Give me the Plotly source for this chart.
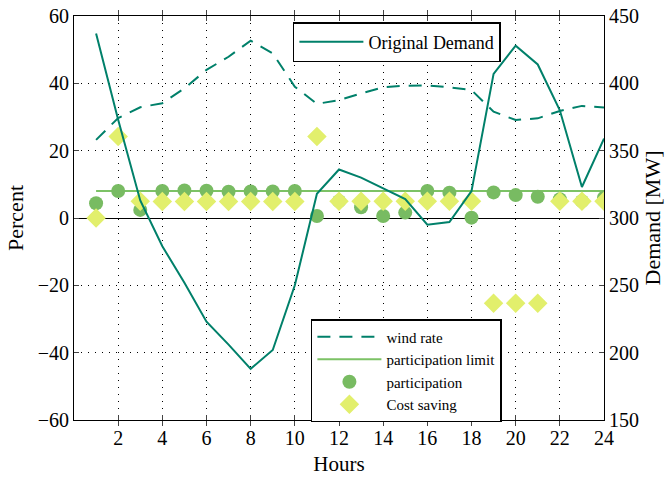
import plotly.graph_objects as go

hours = list(range(1, 25))
original_demand = [437, 373, 313, 279, 252, 223, 206, 188, 202, 250, 318, 336,
                   330, 322, 314, 295, 297, 320, 407, 428, 414, 380, 323, 359]
wind_rate = [23.2, 29.7, 32.9, 34.1, 38.5, 44.0, 47.9, 52.7, 48.9, 39.0, 33.9, 35.0,
             37.0, 38.8, 39.3, 39.4, 38.8, 38.0, 31.6, 29.1, 29.6, 31.8, 33.3, 32.8]
participation_limit = [8] * 24
participation = [4.4, 8.0, 2.4, 8.0, 8.2, 8.1, 7.8, 7.9, 7.9, 8.0, 0.6, 5.0,
                 3.2, 0.6, 1.6, 8.0, 7.5, 0.1, 7.6, 6.8, 6.3, 5.6, 5.0, 6.0]
cost_saving = [0.0, 24.2, 5.0, 4.9, 4.9, 4.9, 4.9, 4.9, 4.9, 4.9, 24.2, 5.0,
               5.0, 5.0, 5.0, 5.0, 5.0, 5.0, -25.3, -25.3, -25.3, 5.0, 5.0, 5.0]

TEAL = "#00806a"
LGREEN = "#7cc266"
DOT = "#78bb62"
YEL = "#e2ef6c"
FONT = "Liberation Serif"

fig = go.Figure()
fig.add_trace(go.Scatter(x=hours, y=original_demand, mode="lines", name="Original Demand",
                         line=dict(color=TEAL, width=2), yaxis="y2", legend="legend"))
fig.add_trace(go.Scatter(x=hours, y=wind_rate, mode="lines", name="wind rate",
                         line=dict(color=TEAL, width=2, dash="13px,9px"), legend="legend2"))
fig.add_trace(go.Scatter(x=hours, y=participation_limit, mode="lines", name="participation limit",
                         line=dict(color=LGREEN, width=2), legend="legend2"))
fig.add_trace(go.Scatter(x=hours, y=participation, mode="lines+markers", name="participation",
                         line=dict(width=0, color="rgba(0,0,0,0)"),
                         marker=dict(color=DOT, size=14, symbol="circle"), legend="legend2"))
fig.add_trace(go.Scatter(x=hours, y=cost_saving, mode="lines+markers", name="Cost saving",
                         line=dict(width=0, color="rgba(0,0,0,0)"),
                         marker=dict(color=YEL, size=15, symbol="diamond"), legend="legend2"))

fig.update_layout(
    width=669, height=478,
    margin=dict(l=74, r=65, t=16, b=58, autoexpand=False),
    paper_bgcolor="white", plot_bgcolor="white",
    font=dict(family=FONT, size=20, color="black"),
    xaxis=dict(range=[0, 24], tickvals=list(range(2, 25, 2)), ticks="inside", ticklen=5,
               showline=True, linecolor="black", linewidth=1, mirror="allticks",
               showgrid=True, gridcolor="black", griddash="1px,6px", gridwidth=1,
               zeroline=False, automargin=False,
               title=dict(text="Hours", font=dict(size=21), standoff=8)),
    yaxis=dict(range=[-60, 60], tickvals=list(range(-60, 61, 20)),
               ticktext=["\u221260", "\u221240", "\u221220", "0", "20", "40", "60"],
               ticks="inside", ticklen=5, automargin=False,
               showline=True, linecolor="black", linewidth=1,
               showgrid=True, gridcolor="black", griddash="1px,6px", gridwidth=1,
               zeroline=True, zerolinecolor="black", zerolinewidth=1,
               title=dict(text="Percent", font=dict(size=22), standoff=8)),
    yaxis2=dict(range=[150, 450], tickvals=list(range(150, 451, 50)), overlaying="y", side="right",
                ticks="inside", ticklen=5, showline=True, linecolor="black", linewidth=1,
                showgrid=False, zeroline=False, automargin=False,
                title=dict(text="Demand [MW]", font=dict(size=22), standoff=6)),
    legend=dict(x=0.413, y=0.985, xanchor="left", yanchor="top", bgcolor="white",
                bordercolor="black", borderwidth=1.5, font=dict(size=18, family=FONT),
                itemwidth=64),
    legend2=dict(x=0.447, y=0.25, xanchor="left", yanchor="top", bgcolor="white",
                 bordercolor="black", borderwidth=1.5, font=dict(size=15, family=FONT),
                 tracegroupgap=0, itemwidth=64),
    showlegend=True,
)

fig.write_html("out.html")
